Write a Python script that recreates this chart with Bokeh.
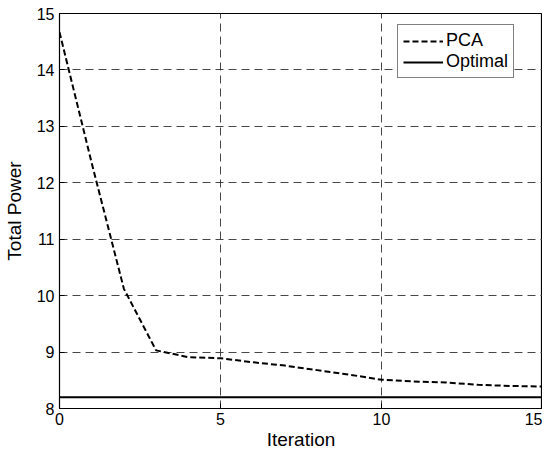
from bokeh.plotting import figure
from bokeh.models import Range1d, FixedTicker, Legend, LegendItem
from bokeh.embed import file_html
from bokeh.resources import INLINE

iteration = [0, 1, 2, 3, 4, 5, 6, 7, 8, 9, 10, 11, 12, 13, 14, 15]
pca = [14.67, 12.35, 10.12, 9.03, 8.91, 8.89, 8.82, 8.76, 8.68, 8.60, 8.51, 8.48, 8.46, 8.42, 8.40, 8.39]
optimal = [8.2, 8.2, 8.2, 8.2, 8.2, 8.2, 8.2, 8.2, 8.2, 8.2, 8.2, 8.2, 8.2, 8.2, 8.2, 8.2]
x_ticks = [0, 5, 10, 15]
y_ticks = [8, 9, 10, 11, 12, 13, 14, 15]

FONT = "Liberation Sans"

p = figure(output_backend="svg", toolbar_location=None,
           frame_width=483, frame_height=395,
           min_border_left=51, min_border_top=13, min_border_right=0, min_border_bottom=0,
           x_range=Range1d(0, 15), y_range=Range1d(8, 15))

p.outline_line_color = "black"
p.outline_line_width = 1.2
p.outline_line_alpha = 1

for ax, ticks in ((p.xaxis, x_ticks), (p.yaxis, y_ticks)):
    ax.ticker = FixedTicker(ticks=ticks)
    ax.minor_tick_line_color = None
    ax.major_tick_in = 5
    ax.major_tick_out = 0
    ax.axis_line_color = "black"
    ax.major_tick_line_color = "black"
    ax.major_label_text_font = FONT
    ax.major_label_text_font_size = "16px"
    ax.major_label_text_color = "black"
    ax.axis_label_text_font = FONT
    ax.axis_label_text_font_size = "19px"
    ax.axis_label_text_font_style = "normal"
    ax.axis_label_text_color = "black"

p.xaxis.axis_label = "Iteration"
p.yaxis.axis_label = "Total Power"
p.xaxis.major_label_standoff = 4
p.xaxis.axis_label_standoff = 1
p.yaxis.major_label_standoff = 5
p.yaxis.axis_label_standoff = 9

for g in (p.xgrid, p.ygrid):
    g.grid_line_color = "#333333"
    g.grid_line_dash = "8 5"
    g.grid_line_width = 1
    g.grid_line_alpha = 0.9

r_pca = p.line(iteration, pca, line_color="black", line_width=2, line_dash="6 3")
r_opt = p.line(iteration, optimal, line_color="black", line_width=2)

legend = Legend(items=[LegendItem(label="PCA", renderers=[r_pca]),
                       LegendItem(label="Optimal", renderers=[r_opt])],
                location=(338, 330))
legend.border_line_color = "black"
legend.border_line_width = 1
legend.background_fill_color = "white"
legend.background_fill_alpha = 1
legend.label_text_font = FONT
legend.label_text_font_size = "18px"
legend.label_text_color = "black"
legend.glyph_width = 40
legend.glyph_height = 20
legend.label_height = 20
legend.label_standoff = 3
legend.spacing = 0
legend.padding = 5
legend.margin = 0
p.add_layout(legend, "center")

open("out.html", "w").write(file_html(p, INLINE))
